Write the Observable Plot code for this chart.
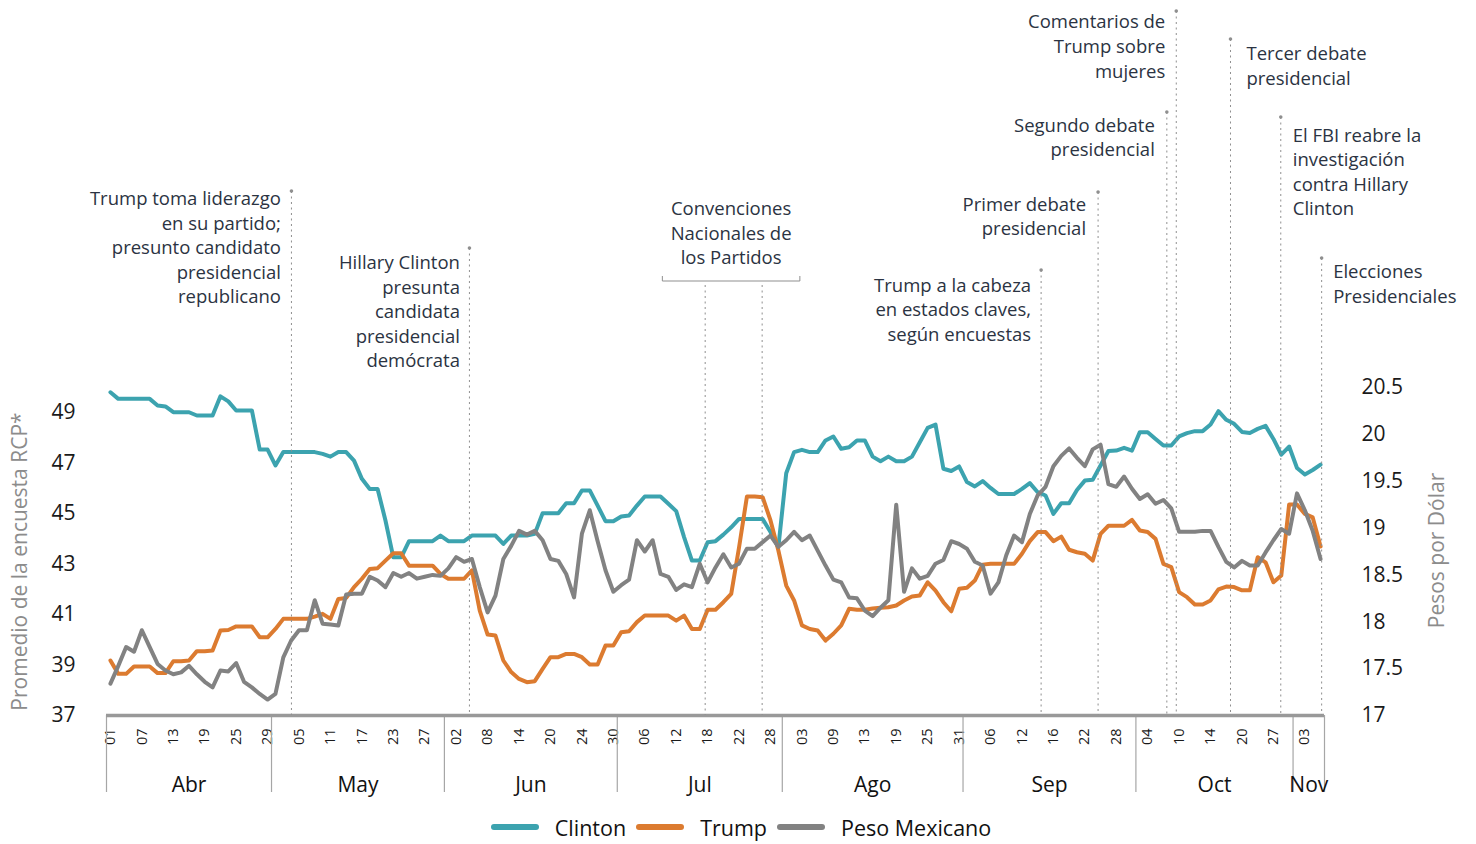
<!DOCTYPE html>
<html><head><meta charset="utf-8">
<script src="https://cdn.jsdelivr.net/npm/d3@7"></script>
<script src="https://cdn.jsdelivr.net/npm/@observablehq/plot@0.6"></script>
<style>
body{margin:0;background:#fff;font-family:"Open Sans",sans-serif;}
#chart svg{display:block}
#legend{display:flex;justify-content:center;align-items:center;height:34px;font-size:21.5px;color:#111;padding-left:16px;box-sizing:border-box;width:1476px}
.item{display:flex;align-items:center;margin-right:10px}
.sw{width:48px;height:6px;border-radius:3px;margin-right:16px}
</style></head><body><div id="chart"></div><div id="legend"></div>
<script>
// ---- Categories (trading days, 2016) ----
const dates = [
"04-01","04-04","04-05","04-06","04-07","04-08","04-11","04-12","04-13","04-14","04-15","04-18","04-19","04-20","04-21","04-22","04-25","04-26","04-27","04-28","04-29",
"05-02","05-03","05-04","05-05","05-06","05-09","05-10","05-11","05-12","05-13","05-16","05-17","05-18","05-19","05-20","05-23","05-24","05-25","05-26","05-27","05-30","05-31",
"06-01","06-02","06-03","06-06","06-07","06-08","06-09","06-10","06-13","06-14","06-15","06-16","06-17","06-20","06-21","06-22","06-23","06-24","06-27","06-28","06-29","06-30",
"07-01","07-04","07-05","07-06","07-07","07-08","07-11","07-12","07-13","07-14","07-15","07-18","07-19","07-20","07-21","07-22","07-25","07-26","07-27","07-28","07-29",
"08-01","08-02","08-03","08-04","08-05","08-08","08-09","08-10","08-11","08-12","08-13","08-16","08-17","08-18","08-19","08-22","08-23","08-24","08-25","08-26","08-29","08-30","08-31",
"09-01","09-02","09-05","09-06","09-07","09-08","09-09","09-12","09-13","09-14","09-15","09-16","09-19","09-20","09-21","09-22","09-23","09-26","09-27","09-28","09-29","09-30",
"10-03","10-04","10-05","10-06","10-07","10-10","10-11","10-12","10-13","10-14","10-17","10-18","10-19","10-20","10-21","10-25","10-26","10-27","10-28","10-31",
"11-01","11-03","11-04","11-07"];

// ---- Series ----
const clinton = [
49.81,49.55,49.55,49.55,49.55,49.55,49.29,49.25,49.02,49.02,49.02,48.89,48.89,48.89,49.65,49.45,49.09,49.09,49.09,47.54,47.54,
46.91,47.44,47.44,47.44,47.44,47.44,47.37,47.26,47.44,47.44,47.10,46.38,45.98,45.98,44.73,43.27,43.27,43.91,43.91,43.91,43.91,44.13,
43.91,43.91,43.91,44.13,44.13,44.13,44.13,43.80,44.13,44.13,44.13,44.20,45.02,45.02,45.02,45.41,45.41,45.92,45.92,45.32,44.70,44.70,
44.89,44.93,45.32,45.68,45.68,45.68,45.39,45.10,44.07,43.14,43.14,43.87,43.91,44.17,44.46,44.79,44.79,44.79,44.79,44.27,43.67,
46.60,47.44,47.53,47.44,47.44,47.90,48.06,47.57,47.63,47.90,47.90,47.26,47.08,47.26,47.08,47.08,47.26,47.83,48.40,48.53,46.78,46.69,46.87,
46.25,46.08,46.29,46.02,45.78,45.78,45.78,45.98,46.21,45.85,45.72,44.99,45.41,45.41,45.94,46.31,46.34,46.91,47.48,47.50,47.61,47.50,
48.23,48.23,47.96,47.70,47.70,48.06,48.19,48.27,48.27,48.53,49.06,48.72,48.56,48.24,48.20,48.36,48.48,47.96,47.34,47.66,
46.81,46.55,46.73,46.94];

const trump = [
39.18,38.65,38.65,38.94,38.94,38.94,38.68,38.68,39.15,39.15,39.18,39.55,39.55,39.58,40.37,40.39,40.53,40.53,40.53,40.10,40.10,
40.43,40.83,40.83,40.83,40.83,40.92,41.03,40.83,41.62,41.66,42.09,42.42,42.81,42.84,43.14,43.43,43.43,42.94,42.94,42.94,42.94,42.61,
42.42,42.42,42.42,42.75,41.16,40.21,40.17,39.18,38.72,38.45,38.32,38.36,38.85,39.31,39.31,39.44,39.44,39.31,39.02,39.02,39.77,39.77,
40.30,40.34,40.70,40.96,40.96,40.96,40.96,40.76,40.96,40.43,40.43,41.19,41.19,41.49,41.82,43.67,45.68,45.68,45.65,44.73,43.54,
42.15,41.56,40.57,40.43,40.37,39.97,40.24,40.57,41.23,41.19,41.19,41.24,41.27,41.29,41.36,41.56,41.72,41.76,42.28,41.95,41.49,41.13,42.02,
42.06,42.35,42.98,43.01,43.01,43.01,43.01,43.41,43.91,44.27,44.27,43.91,44.09,43.57,43.47,43.41,43.14,44.20,44.52,44.52,44.52,44.75,
44.33,44.27,44.00,43.01,42.88,41.89,41.69,41.40,41.40,41.56,42.00,42.11,42.09,41.96,41.96,43.27,43.07,42.28,42.55,45.36,
45.36,44.99,44.85,43.70];

const peso = [
17.34,17.53,17.73,17.68,17.91,17.73,17.55,17.48,17.44,17.46,17.53,17.44,17.36,17.30,17.48,17.47,17.56,17.36,17.30,17.23,17.17,
17.23,17.62,17.80,17.91,17.91,18.23,17.98,17.97,17.96,18.29,18.30,18.30,18.48,18.44,18.37,18.52,18.48,18.52,18.46,18.48,18.50,18.49,
18.57,18.69,18.64,18.67,18.37,18.10,18.28,18.67,18.81,18.97,18.93,18.97,18.87,18.67,18.65,18.51,18.26,18.94,19.19,18.86,18.55,18.32,
18.39,18.45,18.87,18.75,18.87,18.51,18.48,18.34,18.40,18.37,18.62,18.42,18.58,18.72,18.58,18.62,18.78,18.78,18.85,18.92,18.80,
18.87,18.96,18.87,18.92,18.76,18.60,18.45,18.42,18.26,18.25,18.12,18.06,18.15,18.23,19.25,18.32,18.57,18.46,18.49,18.62,18.66,18.86,18.83,
18.78,18.64,18.60,18.30,18.42,18.71,18.92,18.85,19.15,19.35,19.44,19.66,19.77,19.85,19.75,19.66,19.84,19.89,19.47,19.44,19.55,19.42,
19.31,19.36,19.26,19.30,19.21,18.96,18.96,18.96,18.97,18.97,18.80,18.64,18.58,18.65,18.60,18.60,18.74,18.87,18.99,18.94,
19.37,19.19,18.97,18.67];

const seriesNames = ["Clinton", "Trump", "Peso Mexicano"];

// ---- Axis tick labels ----
const tickDates = ["04-01","04-07","04-13","04-19","04-25","04-29","05-05","05-11","05-17","05-23","05-27",
"06-02","06-08","06-14","06-20","06-24","06-30","07-06","07-12","07-18","07-22","07-28",
"08-03","08-09","08-13","08-19","08-25","08-31","09-06","09-12","09-16","09-22","09-28",
"10-04","10-10","10-14","10-20","10-27","11-03"];
const monthKeys = ["04","05","06","07","08","09","10","11"];
const monthNames = ["Abr","May","Jun","Jul","Ago","Sep","Oct","Nov"];
const leftTicks = [37,39,41,43,45,47,49];
const pesoTicks = [17,17.5,18,18.5,19,19.5,20,20.5];
const leftTitle = "Promedio de la encuesta RCP*";
const rightTitle = "Pesos por Dólar";

// ---- Events (position on the category axis) ----
const eventNames = [
"Trump toma liderazgo\nen su partido;\npresunto candidato\npresidencial\nrepublicano",
"Hillary Clinton\npresunta\ncandidata\npresidencial\ndemócrata",
"Trump a la cabeza\nen estados claves,\nsegún encuestas",
"Primer debate\npresidencial",
"Segundo debate\npresidencial",
"Comentarios de\nTrump sobre\nmujeres",
"Tercer debate\npresidencial",
"El FBI reabre la\ninvestigación\ncontra Hillary\nClinton",
"Elecciones\nPresidenciales"];
const eventPos = [23.1, 45.75, 118.5, 125.75, 134.5, 135.7, 142.6, 149, 154.2];
const conventionName = "Convenciones\nNacionales de\nlos Partidos";
const conventionPos = [75.75, 83];
const conventionSpan = [70.3, 87.8];

// ---- Layout (pixels) ----
const colors = ["#3ca3af", "#dc7b30", "#828282"];
const evTop = [191, 248, 270, 192, 112, 11, 39, 117, 258];
const evBase = [205, 269, 291.5, 210.5, 131.5, 28.3, 60, 141.5, 278.3];
const evDx = [-10.5, -9.5, -10, -12, -12, -11, 16, 12, 11.5];
const lineGap = 24.6;

const toLeft = p => 37 + (p - 17) * 13 / 3.5;
const fromLeft = v => 17 + (v - 37) * 3.5 / 13;

const rows = dates.map((d, i) => ({i, d, c: clinton[i], t: trump[i], p: toLeft(peso[i])}));
const tickIdx = tickDates.map(t => dates.indexOf(t));
const months = monthKeys.map((k, j) => {
  const idx = dates.map((d, i) => d.startsWith(k) ? i : -1).filter(i => i >= 0);
  const s = idx[0] - 0.5, e = idx[idx.length - 1] + 0.5;
  return {name: monthNames[j], s, e, mid: (s + e) / 2};
});
const bounds = [months[0].s, ...months.map(m => m.e)];

const W = 1476, H = 810, mT = 387, mB = 95, mL = 106, mR = 152;
const plotH = H - mT - mB;

const plot = Plot.plot({
  width: W, height: H,
  marginTop: mT, marginBottom: mB, marginLeft: mL, marginRight: mR,
  style: {fontFamily: "'Open Sans', sans-serif", background: "#fff"},
  x: {type: "linear", domain: [-0.5, dates.length - 0.5], axis: null},
  y: {domain: [37, 50], axis: null},
  marks: [
    Plot.axisY(leftTicks, {anchor: "left", tickSize: 0, tickPadding: 31, fontSize: 21, color: "#1a1a1a", label: null}),
    Plot.axisY(pesoTicks.map(toLeft), {anchor: "right", tickSize: 0, tickPadding: 37, fontSize: 21, color: "#1a1a1a", label: null,
      tickFormat: v => String(Math.round(fromLeft(v) * 10) / 10)}),
    Plot.axisX(tickIdx, {anchor: "bottom", tickSize: 0, tickPadding: 13, tickRotate: -90, fontSize: 14.5, color: "#1a1a1a", label: null,
      tickFormat: i => dates[i].slice(3)}),
    Plot.ruleX(bounds, {insetTop: plotH, insetBottom: -77, stroke: "#a6a6a6", strokeWidth: 1.2}),
    Plot.text(months, {x: "mid", text: "name", frameAnchor: "bottom", dy: 76, fontSize: 21, fill: "#111"}),
    Plot.text([leftTitle], {frameAnchor: "left", textAnchor: "middle", dx: -86, dy: 10, rotate: -90, fontSize: 21, fill: "#8c8c8c"}),
    Plot.text([rightTitle], {frameAnchor: "right", textAnchor: "middle", dx: 113, dy: -1, rotate: -90, fontSize: 21, fill: "#8c8c8c"}),
    Plot.line(rows, {x: "i", y: "c", stroke: colors[0], strokeWidth: 4, strokeLinejoin: "round"}),
    Plot.line(rows, {x: "i", y: "t", stroke: colors[1], strokeWidth: 4, strokeLinejoin: "round"}),
    Plot.line(rows, {x: "i", y: "p", stroke: colors[2], strokeWidth: 4, strokeLinejoin: "round"}),
    Plot.ruleY([37], {stroke: "#999", strokeWidth: 3.5})
  ]
});
document.getElementById("chart").appendChild(plot);

// ---- Annotation overlay, positioned through the plot's scales ----
const sx = plot.scale("x"), sy = plot.scale("y");
const y0 = sy.apply(37);
const g = d3.select(plot).append("g").attr("font-family", "'Open Sans', sans-serif")
  .attr("font-size", 18.5).attr("fill", "#2b3342").attr("font-weight", 400);
const dash = "2 3.5";
eventNames.forEach((name, k) => {
  const x = sx.apply(eventPos[k]);
  g.append("line").attr("x1", x).attr("x2", x).attr("y1", evTop[k]).attr("y2", y0)
    .attr("stroke", "#8f8f8f").attr("stroke-width", 1).attr("stroke-dasharray", dash);
  g.append("circle").attr("cx", x).attr("cy", evTop[k]).attr("r", 1.8).attr("fill", "#8f8f8f");
  const t = g.append("text").attr("text-anchor", evDx[k] < 0 ? "end" : "start");
  name.split("\n").forEach((ln, j) => t.append("tspan").attr("x", x + evDx[k]).attr("y", evBase[k] + j * lineGap).text(ln));
});
// conventions bracket
const bx1 = sx.apply(conventionSpan[0]), bx2 = sx.apply(conventionSpan[1]), by = 281;
g.append("path").attr("d", `M${bx1},${by - 5}V${by}H${bx2}V${by - 5}`).attr("fill", "none").attr("stroke", "#8f8f8f").attr("stroke-width", 1);
conventionPos.forEach(p => {
  const x = sx.apply(p);
  g.append("line").attr("x1", x).attr("x2", x).attr("y1", by + 4).attr("y2", y0)
    .attr("stroke", "#8f8f8f").attr("stroke-width", 1).attr("stroke-dasharray", dash);
});
const ct = g.append("text").attr("text-anchor", "middle");
conventionName.split("\n").forEach((ln, j) => ct.append("tspan").attr("x", (bx1 + bx2) / 2).attr("y", 215 + j * lineGap).text(ln));

// ---- Legend ----
const lg = d3.select("#legend");
seriesNames.forEach((n, k) => {
  const it = lg.append("div").attr("class", "item");
  it.append("div").attr("class", "sw").style("background", colors[k]);
  it.append("span").text(n);
});
</script></body></html>
